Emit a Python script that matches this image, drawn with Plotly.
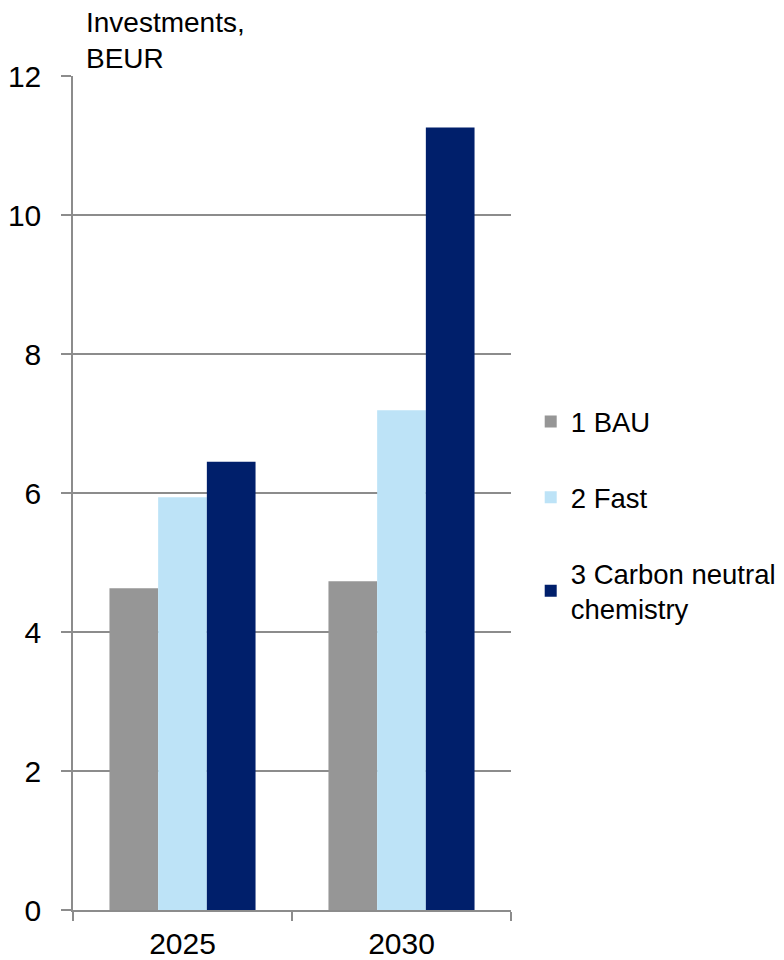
import plotly.graph_objects as go

categories = ["2025", "2030"]
series_names = ["1 BAU", "2 Fast", "3 Carbon neutral<br>chemistry"]
bau = [4.63, 4.73]
fast = [5.94, 7.19]
carbon_neutral = [6.45, 11.26]
colors = ["#969696", "#BDE3F7", "#001F6B"]
y_ticks = [0, 2, 4, 6, 8, 10, 12]

fig = go.Figure()
for i, (name, vals) in enumerate(zip(series_names, [bau, fast, carbon_neutral])):
    fig.add_trace(go.Bar(
        x=categories, y=vals, name=name, marker_color=colors[i],
        marker_line_width=0, legendgroup=f"g{i}",
    ))

font = "Liberation Sans, Arial, sans-serif"
fig.update_layout(
    width=784, height=960,
    margin=dict(l=65, r=281, t=68, b=58, autoexpand=False),
    plot_bgcolor="white", paper_bgcolor="white",
    barmode="group", bargap=0.333, bargroupgap=0,
    font=dict(family=font, size=30, color="black"),
    legend=dict(
        x=1.045, xanchor="left", y=0.615, yanchor="top",
        font=dict(size=27.5, family=font, color="black"),
        tracegroupgap=37, itemwidth=30,
        bgcolor="rgba(0,0,0,0)", borderwidth=0,
    ),
    showlegend=True,
)
fig.update_xaxes(
    automargin=False,
    showline=True, linecolor="#8c8c8c", linewidth=1.5,
    ticks="outside", tickson="boundaries", ticklen=9, tickcolor="#8c8c8c", tickwidth=1.5,
    tickfont=dict(size=30, family=font, color="black"),
    ticklabelstandoff=6,
    showgrid=False,
)
fig.update_yaxes(
    automargin=False,
    range=[0, 12], tickvals=y_ticks,
    showline=True, linecolor="#8c8c8c", linewidth=1.5,
    ticks="outside", ticklen=10, tickcolor="#8c8c8c", tickwidth=1.5,
    ticklabelstandoff=14,
    showgrid=True, gridcolor="#8c8c8c", gridwidth=1.5,
    zeroline=False,
    tickfont=dict(size=30, family=font, color="black"),
)
fig.add_annotation(
    text="Investments,<br>BEUR", xref="paper", yref="paper",
    x=0.025, y=1.0, xanchor="left", yanchor="bottom", showarrow=False, align="left",
    font=dict(size=28, family=font, color="black"),
)
fig.write_html("out.html")
